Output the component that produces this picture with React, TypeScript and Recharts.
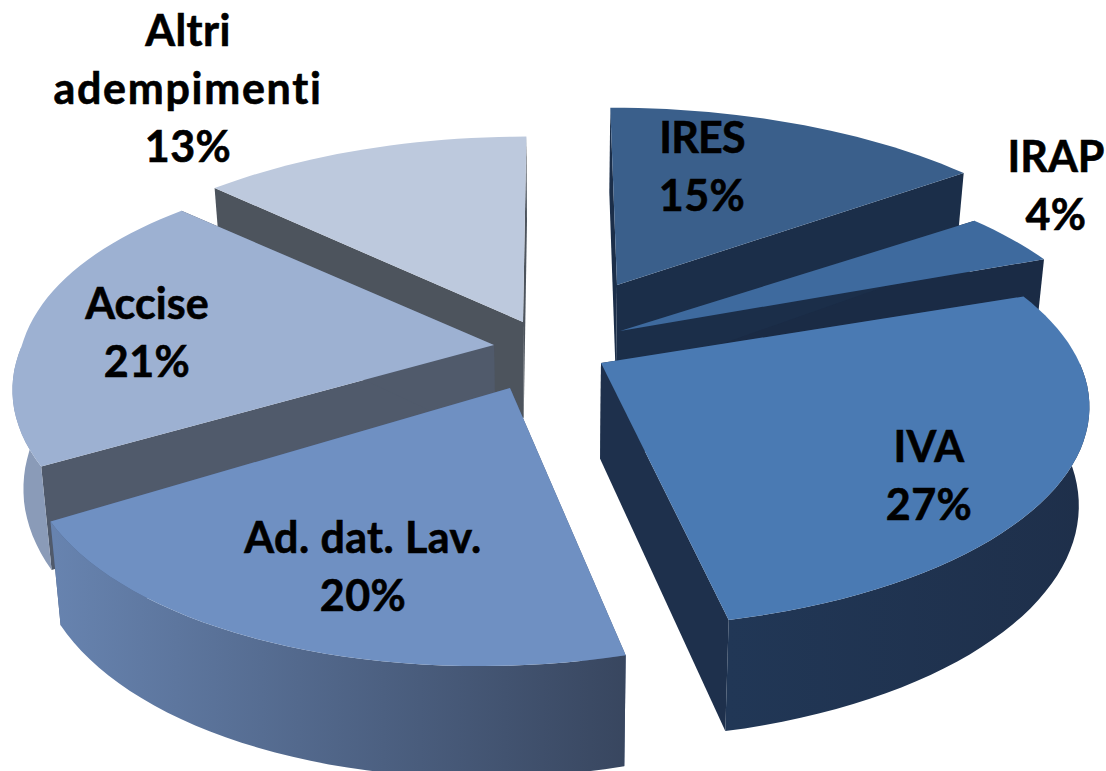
import { Pie, PieChart } from "recharts";

const names = ["IRES", "IRAP", "IVA", "Ad. dat. Lav.", "Accise", "Altri adempimenti"];
const shares = [15, 4, 27, 20, 21, 13];

const topColors = ["#3A5F8B", "#3E6A9E", "#4A7AB3", "#6F90C2", "#9DB1D2", "#BDC9DD"];
const wallFills = ["#1B2E49", "#1A2B45", "url(#wallIva)", "url(#wallAd)", "#8A9BB8", "#4D545D"];
const cutColors = ["#1B2E49", "#1A2B45", "#1E304C", "#4A5D80", "#505A6B", "#4D545D"];

// where each exploded slice's tip ends up, relative to the pie centre
const explode = [
  [57, -55],
  [60, -9],
  [41, 23],
  [-50, 48],
  [-66, 5],
  [-37, -18],
];
// per-slice fudge, the source chart is not a clean ellipse
const fit = [
  { sx: 1.01, sy: 0.985, front: 0, back: -8, twist: 0 },
  { sx: 1.02, sy: 0.97, front: 0, back: 0, twist: 0 },
  { sx: 0.997, sy: 0.98, front: 0, back: 0, twist: 2 },
  { sx: 0.98, sy: 1.03, front: 25, back: 0, twist: 0 },
  { sx: 0.983, sy: 1, front: 0, back: -35, twist: 2 },
  { sx: 1.01, sy: 1.03, front: 0, back: 4, twist: 0 },
];

const labelSpots = [
  [702, 138],
  [1056, 157],
  [929, 447],
  [363, 538],
  [147, 304],
  [188, 31],
];
const labelLines = [["IRES"], ["IRAP"], ["IVA"], ["Ad. dat. Lav."], ["Accise"], ["Altri", "adempimenti"]];
// Lato is not Calibri, nudge the widths line by line
const tracking: Record<string, number> = { adempimenti: 1.7, IRES: -0.8, IRAP: 0, Accise: 0.1 };

const data = names.map((name, i) => ({ name, value: shares[i], idx: i }));
const reversed = [...data].reverse();

const TILT = 0.45;
const PERSPECTIVE = 0.2;
const DEPTH = 96;
const RAD = Math.PI / 180;

// pie angle (maths convention) -> point on the tilted disc, relative to the tip
function project(angle: number, radius: number, idx: number) {
  const f = fit[idx];
  const a = (angle - f.twist) * RAD;
  const u = Math.cos(a);
  const v = Math.sin(a);
  const w = 1 + PERSPECTIVE * v;
  return {
    x: ((radius * u + f.front * Math.min(v, 0) + f.back * Math.max(v, 0)) / w) * f.sx,
    y: ((-radius * TILT * v) / w) * f.sy,
    v,
    depth: DEPTH / (1 + 0.14 * v),
  };
}

function sliceGeometry(props: any) {
  const { cx, cy, startAngle, endAngle, outerRadius, payload } = props;
  const from = Math.min(startAngle, endAngle);
  const to = Math.max(startAngle, endAngle);
  const [ox, oy] = explode[payload.idx];
  const tx = cx + ox;
  const ty = cy + oy;
  const steps = Math.max(4, Math.ceil((to - from) / 2));
  const arc = [];
  for (let s = 0; s <= steps; s++) {
    const p = project(from + ((to - from) * s) / steps, outerRadius, payload.idx);
    arc.push({ x: tx + p.x, y: ty + p.y, v: p.v, depth: p.depth });
  }
  const dropX = (x: number) => x - (x - cx) * 0.02;
  const down = (p: { x: number; y: number; depth: number }) => ({ x: dropX(p.x), y: p.y + p.depth });
  const tip = { x: tx, y: ty, depth: DEPTH };
  return { arc, tip, down };
}

const toPath = (pts: { x: number; y: number }[]) =>
  "M" + pts.map((p) => `${p.x.toFixed(1)},${p.y.toFixed(1)}`).join("L") + "Z";

function Walls(props: any) {
  const { arc, tip, down } = sliceGeometry(props);
  const i = props.payload.idx;
  const first = arc[0];
  const last = arc[arc.length - 1];
  // only the part of the rim that faces the viewer
  const rim = arc.filter((p) => p.v <= 0.02);
  return (
    <g>
      <path d={toPath([tip, last, down(last), down(tip)])} fill={cutColors[i]} />
      <path d={toPath([tip, first, down(first), down(tip)])} fill={cutColors[i]} />
      {rim.length > 1 && <path d={toPath([...rim, ...[...rim].reverse().map(down)])} fill={wallFills[i]} />}
    </g>
  );
}

// IRES and IRAP sit behind everything else, so their walls go down first
const BackWalls = (props: any) => (props.payload.idx < 2 ? <Walls {...props} /> : <g />);
const FrontWalls = (props: any) => (props.payload.idx < 2 ? <g /> : <Walls {...props} />);

function TopShape(props: any) {
  const { arc, tip } = sliceGeometry(props);
  return <path d={toPath([tip, ...arc])} fill={topColors[props.payload.idx]} />;
}

function SliceLabel(props: any) {
  const i = props.payload?.idx ?? props.index;
  const [x, y] = labelSpots[i];
  const lines = [...labelLines[i], `${Math.round(props.percent * 100)}%`];
  return (
    <text
      textAnchor="middle"
      fontFamily="Lato"
      fontWeight={700}
      fontSize={43}
      fill="#000"
      stroke="#000"
      strokeWidth={0.6}
      style={{ fontVariantLigatures: "none" }}
    >
      {lines.map((line, n) => (
        <tspan key={line} x={x} y={y + n * 58} dy={15} letterSpacing={tracking[line] ?? 0.4}>
          {line}
        </tspan>
      ))}
    </text>
  );
}

export default function App() {
  return (
    <div style={{ position: "absolute", left: 0, top: 0, width: 1106, height: 771, overflow: "hidden" }}>
      <PieChart width={1106} height={771} margin={{ top: 0, right: 0, bottom: 0, left: 0 }}>
        <defs>
          <linearGradient id="wallAd" gradientUnits="userSpaceOnUse" x1="55" y1="0" x2="627" y2="0">
            <stop offset="0" stopColor="#6783AF" />
            <stop offset="1" stopColor="#38465F" />
          </linearGradient>
          <linearGradient id="wallIva" gradientUnits="userSpaceOnUse" x1="730" y1="0" x2="1090" y2="0">
            <stop offset="0" stopColor="#213756" />
            <stop offset="1" stopColor="#1E2F4A" />
          </linearGradient>
        </defs>
        <Pie
          data={reversed}
          dataKey="value"
          cx={560}
          cy={340}
          outerRadius={480}
          startAngle={90}
          endAngle={450}
          stroke="none"
          shape={BackWalls}
          isAnimationActive={false}
        />
        <Pie
          data={reversed}
          dataKey="value"
          cx={560}
          cy={340}
          outerRadius={480}
          startAngle={90}
          endAngle={450}
          stroke="none"
          shape={FrontWalls}
          isAnimationActive={false}
        />
        <Pie
          data={data}
          dataKey="value"
          cx={560}
          cy={340}
          outerRadius={480}
          startAngle={90}
          endAngle={-270}
          stroke="none"
          shape={TopShape}
          label={SliceLabel}
          labelLine={false}
          isAnimationActive={false}
        />
      </PieChart>
    </div>
  );
}
